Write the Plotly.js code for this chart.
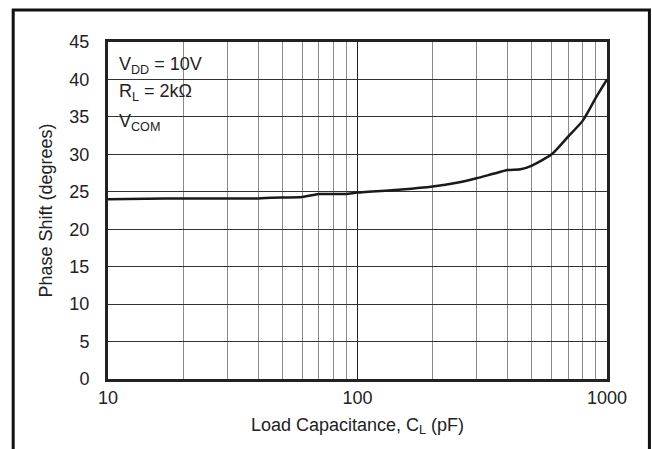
<!DOCTYPE html>
<html>
<head>
<meta charset="utf-8">
<script src="https://cdn.plot.ly/plotly-3.0.1.min.js"></script>
<style>html,body{margin:0;padding:0;background:#fff;}#chart{width:652px;height:449px;}</style>
</head>
<body>
<div id="chart"></div>
<script>
// Data
const capacitance = [10, 17, 40, 45, 60, 70, 90, 100, 150, 200, 250, 300, 350, 400, 450, 500, 600, 700, 800, 900, 1000];
const phaseShift  = [24.0, 24.1, 24.1, 24.2, 24.3, 24.7, 24.7, 24.9, 25.3, 25.7, 26.2, 26.8, 27.4, 27.9, 28.0, 28.5, 30.0, 32.4, 34.5, 37.5, 40.0];
const xMajorTicks = [10, 100, 1000];
const xMinorTicks = [20, 30, 40, 50, 60, 70, 80, 90, 200, 300, 400, 500, 600, 700, 800, 900];
const yTicks = [0, 5, 10, 15, 20, 25, 30, 35, 40, 45];
const conditionLines = ['V<sub>DD</sub> = 10V', 'R<sub>L</sub> = 2kΩ', 'V<sub>COM</sub>'];

const FAM = 'Liberation Sans, Arial, sans-serif';
const INK = '#222';

const trace = {
  x: capacitance, y: phaseShift, type: 'scatter', mode: 'lines',
  line: {color: '#1a1a1a', width: 2.5, shape: 'spline', smoothing: 0.6},
  hoverinfo: 'none'
};

const annY = [0.971, 0.889, 0.800];

const layout = {
  width: 652, height: 449,
  margin: {l: 108, r: 45, t: 42, b: 70},
  paper_bgcolor: '#fff', plot_bgcolor: '#fff',
  font: {family: FAM, size: 18, color: INK},
  showlegend: false,
  xaxis: {
    type: 'log', range: [1, 3],
    tickvals: xMajorTicks, ticktext: xMajorTicks.map(String),
    showgrid: true, gridcolor: '#222', gridwidth: 1,
    minor: {tickvals: xMinorTicks, showgrid: true, gridcolor: '#8a8a8a', gridwidth: 1, ticklen: 0},
    ticks: '', ticklabelstandoff: 0,
    showline: true, linecolor: '#222', linewidth: 3, mirror: true,
    zeroline: false,
    tickfont: {family: FAM, size: 18, color: INK},
    title: {text: 'Load Capacitance, C<sub>L</sub> (pF)', font: {family: FAM, size: 18, color: INK}, standoff: 12}
  },
  yaxis: {
    range: [0, 45], tickvals: yTicks,
    showgrid: true, gridcolor: '#333', gridwidth: 1,
    ticks: '', ticklabelstandoff: 12,
    showline: true, linecolor: '#222', linewidth: 3, mirror: true,
    zeroline: false,
    tickfont: {family: FAM, size: 18, color: INK},
    title: {text: 'Phase Shift (degrees)', font: {family: FAM, size: 18, color: INK}, standoff: 13}
  },
  shapes: [
    {type: 'rect', xref: 'paper', yref: 'paper', x0: 0.01, x1: 0.205, y0: 0.718, y1: 0.961,
     fillcolor: '#fff', line: {width: 0}, layer: 'between'},
    {type: 'rect', xref: 'paper', yref: 'paper', x0: -0.19, x1: 1.085, y0: -0.35, y1: 1.095,
     fillcolor: 'rgba(0,0,0,0)', line: {color: '#111', width: 3}, layer: 'above'}
  ],
  annotations: conditionLines.map((t, i) => ({
    xref: 'paper', yref: 'paper', x: 0.018, y: annY[i], xanchor: 'left', yanchor: 'top', align: 'left',
    showarrow: false, text: t, font: {family: FAM, size: 18, color: INK}
  }))
};

Plotly.newPlot('chart', [trace], layout, {staticPlot: true, displayModeBar: false});
</script>
</body>
</html>
